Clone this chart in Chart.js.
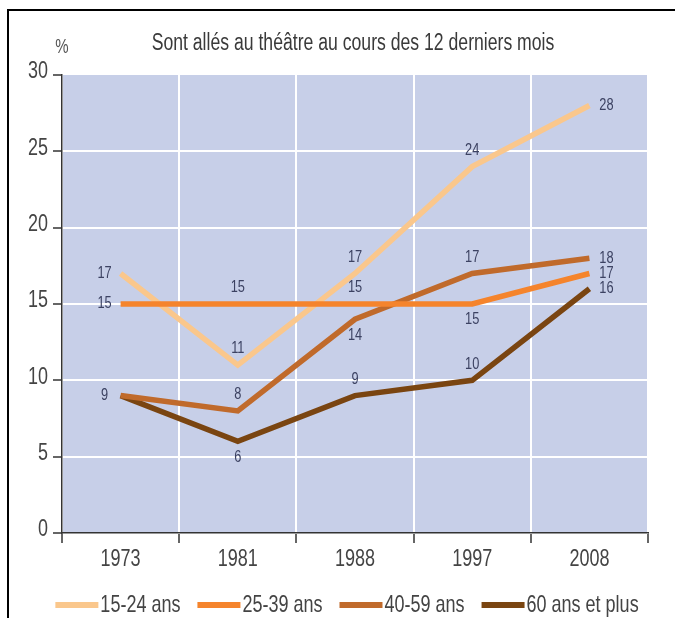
<!DOCTYPE html>
<html>
<head>
<meta charset="utf-8">
<script src="https://cdn.jsdelivr.net/npm/chart.js@4/dist/chart.umd.min.js"></script>
<style>
  html, body { margin: 0; padding: 0; background: #fff; }
  #wrap { width: 675px; height: 618px; }
</style>
</head>
<body>
<div id="wrap"><canvas id="c" width="675" height="618"></canvas></div>
<script>
// ---- data ----
const categories = ['1973', '1981', '1988', '1997', '2008'];
const seriesNames = ['15-24 ans', '25-39 ans', '40-59 ans', '60 ans et plus'];
const values1524 = [17, 11, 17, 24, 28];
const values2539 = [15, 15, 15, 15, 17];
const values4059 = [9, 8, 14, 17, 18];
const values60plus = [9, 6, 9, 10, 16];
const yTickValues = [0, 5, 10, 15, 20, 25, 30];
const titleText = 'Sont allés au théâtre au cours des 12 derniers mois';
const unitText = '%';

// ---- styles ----
const FONT = '"Liberation Sans", Arial, sans-serif';
const colors = ['#FAC78C', '#F5842C', '#C06A2B', '#7A4511'];
const labelColor = '#3C4262';
const textColor = '#444';
const plotBg = '#C7CFE8';
// label placement per series and point: l/r/t/b, null = no label
const labelPlacement = [
  ['l', 't', 't', 't', 'r'],
  ['l', 't', 't', 'b', 'r'],
  ['l', 't', 'b', 't', 'r'],
  [null, 'b', 't', 't', 'r']
];
const drawOrder = [2, 0, 1, 3];

const seriesValues = [values1524, values2539, values4059, values60plus];

function narrowText(ctx, txt, x, y, size, align, color, sx) {
  ctx.save();
  ctx.font = size + 'px ' + FONT;
  ctx.fillStyle = color;
  ctx.textAlign = align;
  ctx.textBaseline = 'middle';
  ctx.translate(x, y);
  ctx.scale(sx, 1);
  ctx.fillText(txt, 0, 0);
  ctx.restore();
}
function narrowWidth(ctx, txt, size, sx) {
  ctx.save();
  ctx.font = size + 'px ' + FONT;
  const w = ctx.measureText(txt).width * sx;
  ctx.restore();
  return w;
}

const bgPlugin = {
  id: 'bg',
  beforeDraw(chart) {
    const { ctx, chartArea: a } = chart;
    ctx.save();
    ctx.fillStyle = '#fff';
    ctx.fillRect(0, 0, chart.width, chart.height);
    ctx.fillStyle = plotBg;
    ctx.fillRect(a.left, a.top, a.right - a.left, a.bottom - a.top);
    ctx.strokeStyle = '#000';
    ctx.lineWidth = 2;
    ctx.beginPath();
    ctx.moveTo(8, chart.height);
    ctx.lineTo(8, 10);
    ctx.lineTo(chart.width, 10);
    ctx.stroke();
    ctx.restore();
  }
};

const labelsPlugin = {
  id: 'ptlabels',
  afterDatasetsDraw(chart) {
    const { ctx } = chart;
    chart.data.datasets.forEach((ds, di) => {
      const meta = chart.getDatasetMeta(di);
      meta.data.forEach((pt, i) => {
        const pos = labelPlacement[di][i];
        if (!pos) return;
        let x = pt.x, y = pt.y;
        if (pos === 'l') x -= 16;
        if (pos === 'r') x += 17;
        if (pos === 't') y -= 16;
        if (pos === 'b') y += 16;
        narrowText(ctx, String(ds.data[i]), x, y, 16, 'center', labelColor, 0.8);
      });
    });
  }
};

const textPlugin = {
  id: 'texts',
  afterDraw(chart) {
    const { ctx, chartArea: a, scales } = chart;
    const xs = scales.x, ys = scales.y;
    categories.forEach((c, i) => {
      narrowText(ctx, c, xs.getPixelForTick(i), 559, 24, 'center', textColor, 0.75);
    });
    yTickValues.forEach(v => {
      narrowText(ctx, String(v), a.left - 14, ys.getPixelForValue(v) - 3, 23, 'right', textColor, 0.78);
    });
    narrowText(ctx, titleText, 353, 44, 23.5, 'center', '#3a3a3a', 0.75);
    narrowText(ctx, unitText, 62, 47, 20, 'center', '#555', 0.75);
    // legend
    const sw = 43, gapIn = 2, gapOut = 17, size = 24, sx = 0.75;
    const widths = seriesNames.map(n => narrowWidth(ctx, n, size, sx));
    let total = 0;
    widths.forEach((w, i) => { total += sw + gapIn + w + (i < widths.length - 1 ? gapOut : 0); });
    let x = 347 - total / 2;
    const y = 605;
    seriesNames.forEach((n, i) => {
      ctx.save();
      ctx.fillStyle = colors[i];
      ctx.fillRect(x, y - 3, sw, 6);
      ctx.restore();
      narrowText(ctx, n, x + sw + gapIn, y, size, 'left', textColor, sx);
      x += sw + gapIn + widths[i] + gapOut;
    });
  }
};

new Chart(document.getElementById('c'), {
  type: 'line',
  data: {
    labels: categories,
    datasets: seriesValues.map((vals, i) => ({
      label: seriesNames[i],
      data: vals,
      borderColor: colors[i],
      backgroundColor: colors[i],
      borderWidth: 5.5,
      pointRadius: 0,
      tension: 0,
      fill: false,
      order: drawOrder[i]
    }))
  },
  options: {
    responsive: false,
    animation: false,
    layout: { padding: { left: 0, right: 27, top: 75, bottom: 45 } },
    plugins: {
      legend: { display: false },
      title: { display: false },
      tooltip: { enabled: false }
    },
    scales: {
      x: {
        type: 'category',
        offset: true,
        grid: {
          offset: true,
          color: '#ffffff',
          lineWidth: 2,
          tickColor: '#333',
          tickLength: 10,
          tickWidth: 1.5
        },
        border: { color: '#333', width: 1.5 },
        ticks: { display: false },
        afterFit(s) { s.height = 40; }
      },
      y: {
        min: 0,
        max: 30,
        afterBuildTicks(s) { s.ticks = yTickValues.map(v => ({ value: v })); },
        grid: {
          color: (c) => (c.tick && c.tick.value === 30 ? 'rgba(0,0,0,0)' : '#ffffff'),
          lineWidth: 2,
          tickColor: '#333',
          tickLength: 9,
          tickWidth: 1.5
        },
        border: { color: '#333', width: 1.5 },
        ticks: { display: false },
        afterFit(s) { s.width = 62; }
      }
    }
  },
  plugins: [bgPlugin, labelsPlugin, textPlugin]
});
</script>
</body>
</html>
